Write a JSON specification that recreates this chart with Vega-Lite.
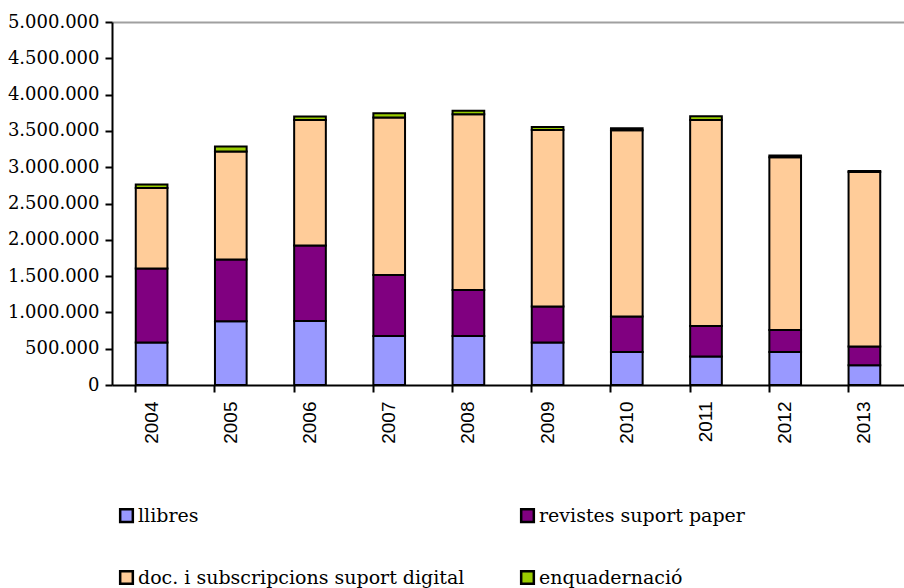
{
  "$schema": "https://vega.github.io/schema/vega-lite/v6.json",
  "width": 792,
  "height": 363,
  "autosize": {"type": "none"},
  "padding": {"left": 112, "top": 22, "right": 0, "bottom": 203},
  "background": "white",
  "config": {
    "view": {"stroke": null},
    "font": "DejaVu Serif"
  },
  "data": {
    "values": [
      {"any": "2004", "cat": "llibres", "ord": 1, "v": 584000},
      {"any": "2004", "cat": "revistes suport paper", "ord": 2, "v": 1019000},
      {"any": "2004", "cat": "doc. i subscripcions suport digital", "ord": 3, "v": 1110000},
      {"any": "2004", "cat": "enquadernació", "ord": 4, "v": 50000},
      {"any": "2005", "cat": "llibres", "ord": 1, "v": 877000},
      {"any": "2005", "cat": "revistes suport paper", "ord": 2, "v": 850000},
      {"any": "2005", "cat": "doc. i subscripcions suport digital", "ord": 3, "v": 1488000},
      {"any": "2005", "cat": "enquadernació", "ord": 4, "v": 69000},
      {"any": "2006", "cat": "llibres", "ord": 1, "v": 882000},
      {"any": "2006", "cat": "revistes suport paper", "ord": 2, "v": 1038000},
      {"any": "2006", "cat": "doc. i subscripcions suport digital", "ord": 3, "v": 1730000},
      {"any": "2006", "cat": "enquadernació", "ord": 4, "v": 47000},
      {"any": "2007", "cat": "llibres", "ord": 1, "v": 675000},
      {"any": "2007", "cat": "revistes suport paper", "ord": 2, "v": 840000},
      {"any": "2007", "cat": "doc. i subscripcions suport digital", "ord": 3, "v": 2168000},
      {"any": "2007", "cat": "enquadernació", "ord": 4, "v": 59000},
      {"any": "2008", "cat": "llibres", "ord": 1, "v": 675000},
      {"any": "2008", "cat": "revistes suport paper", "ord": 2, "v": 634000},
      {"any": "2008", "cat": "doc. i subscripcions suport digital", "ord": 3, "v": 2420000},
      {"any": "2008", "cat": "enquadernació", "ord": 4, "v": 50000},
      {"any": "2009", "cat": "llibres", "ord": 1, "v": 584000},
      {"any": "2009", "cat": "revistes suport paper", "ord": 2, "v": 496000},
      {"any": "2009", "cat": "doc. i subscripcions suport digital", "ord": 3, "v": 2432000},
      {"any": "2009", "cat": "enquadernació", "ord": 4, "v": 42000},
      {"any": "2010", "cat": "llibres", "ord": 1, "v": 455000},
      {"any": "2010", "cat": "revistes suport paper", "ord": 2, "v": 487000},
      {"any": "2010", "cat": "doc. i subscripcions suport digital", "ord": 3, "v": 2566000},
      {"any": "2010", "cat": "enquadernació", "ord": 4, "v": 30000},
      {"any": "2011", "cat": "llibres", "ord": 1, "v": 391000},
      {"any": "2011", "cat": "revistes suport paper", "ord": 2, "v": 422000},
      {"any": "2011", "cat": "doc. i subscripcions suport digital", "ord": 3, "v": 2837000},
      {"any": "2011", "cat": "enquadernació", "ord": 4, "v": 51000},
      {"any": "2012", "cat": "llibres", "ord": 1, "v": 455000},
      {"any": "2012", "cat": "revistes suport paper", "ord": 2, "v": 303000},
      {"any": "2012", "cat": "doc. i subscripcions suport digital", "ord": 3, "v": 2378000},
      {"any": "2012", "cat": "enquadernació", "ord": 4, "v": 25000},
      {"any": "2013", "cat": "llibres", "ord": 1, "v": 271000},
      {"any": "2013", "cat": "revistes suport paper", "ord": 2, "v": 258000},
      {"any": "2013", "cat": "doc. i subscripcions suport digital", "ord": 3, "v": 2405000},
      {"any": "2013", "cat": "enquadernació", "ord": 4, "v": 15000}
    ]
  },
  "mark": {"type": "bar", "stroke": "black", "strokeWidth": 2, "strokeJoin": "miter"},
  "encoding": {
    "x": {
      "field": "any",
      "type": "ordinal",
      "scale": {"paddingInner": 0.6},
      "axis": {
        "title": null,
        "bandPosition": 0,
        "labelAngle": -90,
        "labelFont": "Liberation Sans",
        "labelFontSize": 19,
        "labelColor": "black",
        "labelPadding": 9,
        "domainColor": "black",
        "domainWidth": 2,
        "tickColor": "black",
        "tickWidth": 2,
        "tickSize": 7
      }
    },
    "y": {
      "field": "v",
      "type": "quantitative",
      "stack": "zero",
      "scale": {"domain": [0, 5000000], "nice": false},
      "axis": {
        "title": null,
        "values": [0, 500000, 1000000, 1500000, 2000000, 2500000, 3000000, 3500000, 4000000, 4500000, 5000000],
        "labelExpr": "replace(format(datum.value, ','), regexp(',', 'g'), '.')",
        "labelFont": "DejaVu Serif",
        "labelFontSize": 18,
        "labelColor": "black",
        "labelPadding": 6,
        "labelOverlap": false,
        "grid": true,
        "gridColor": "#a0a0a0",
        "gridWidth": 2,
        "gridOpacity": {"condition": {"test": "datum.value >= 5000000", "value": 1}, "value": 0},
        "domainColor": "black",
        "domainWidth": 2,
        "tickColor": "black",
        "tickWidth": 2,
        "tickSize": 7
      }
    },
    "color": {
      "field": "cat",
      "type": "nominal",
      "scale": {
        "domain": ["llibres", "revistes suport paper", "doc. i subscripcions suport digital", "enquadernació"],
        "range": ["#9999ff", "#800080", "#ffcc99", "#99cc00"]
      },
      "legend": {
        "title": null,
        "orient": "none",
        "legendX": 5,
        "legendY": 484,
        "direction": "horizontal",
        "columns": 2,
        "gridAlign": "all",
        "columnPadding": 51,
        "rowPadding": 39,
        "symbolType": "square",
        "symbolSize": 160,
        "symbolStrokeColor": "black",
        "symbolStrokeWidth": 2.5,
        "symbolOpacity": 1,
        "labelFont": "DejaVu Serif",
        "labelFontSize": 19,
        "labelColor": "black",
        "labelOffset": 2,
        "labelLimit": 500
      }
    },
    "order": {"field": "ord", "type": "quantitative"}
  }
}
